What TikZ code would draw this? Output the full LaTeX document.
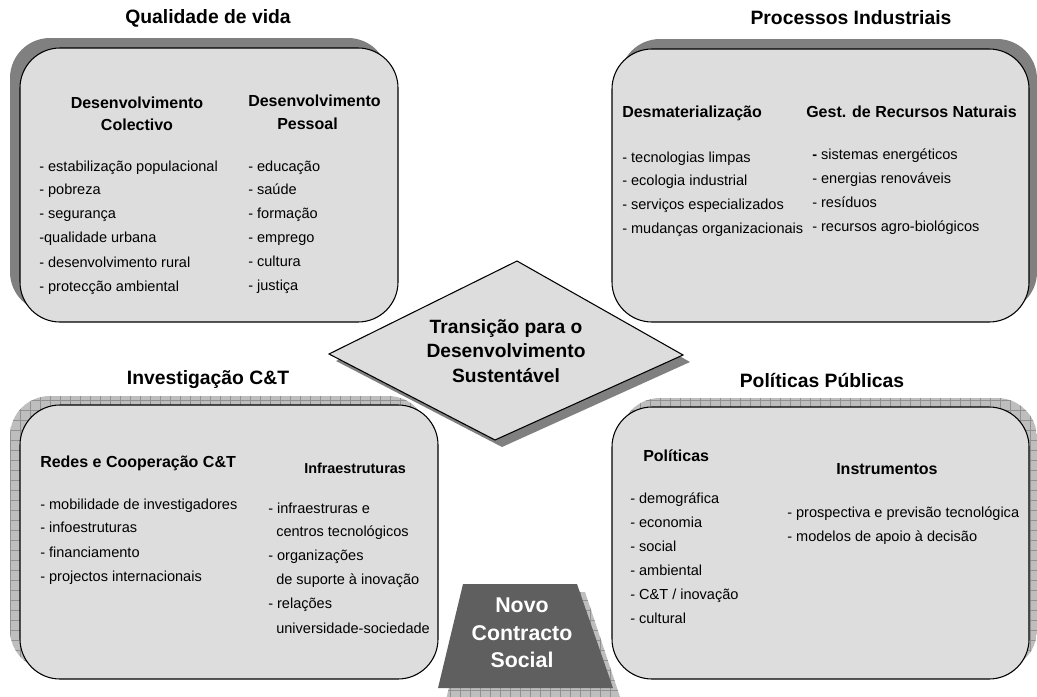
\documentclass[tikz,border=0pt]{standalone}
\usepackage{fontspec}
\setmainfont{Liberation Sans}
\definecolor{boxgray}{RGB}{221,221,221}
\definecolor{shadowgray}{RGB}{128,128,128}
\definecolor{gridfill}{RGB}{190,190,190}
\definecolor{gridline}{RGB}{145,145,145}
\definecolor{darkbox}{RGB}{95,95,95}
\newcommand{\gridshadow}[1]{%
  \begin{scope}
    \clip #1;
    \fill[gridfill] (0,0) rectangle (1040,720);
    \draw[gridline, line width=0.4pt, step=7.5pt] (0,0) grid (1040,720);
  \end{scope}}
\begin{document}
\begin{tikzpicture}[x=0.75pt,y=-0.75pt,
  item/.style={anchor=west, inner sep=0pt, font=\fontsize{10.9}{12}\selectfont, text height=1.5ex, text depth=0.25ex},
  sub/.style={inner sep=0pt, align=center, font=\bfseries\fontsize{12}{16.5}\selectfont},
  subl/.style={anchor=west, inner sep=0pt, font=\bfseries\fontsize{12}{16.5}\selectfont, text height=1.5ex, text depth=0.25ex},
  ttl/.style={inner sep=0pt, font=\bfseries\fontsize{14.5}{17}\selectfont},
  boxstyle/.style={draw=black, line width=0.8pt, fill=boxgray, rounded corners=30pt},
  solidshadow/.style={fill=shadowgray, rounded corners=30pt}]
\useasboundingbox (0,0) rectangle (1037,696);
\clip (0,0) rectangle (1037,696);

% ---- top-left box
\fill[solidshadow] (10,38) rectangle (388,312);
\draw[boxstyle] (20,48) rectangle (398,322);
% ---- top-right box
\fill[solidshadow] (620,39) rectangle (1037,312);
\draw[boxstyle] (612,49) rectangle (1029,322);
% ---- bottom-left box
\gridshadow{[rounded corners=30pt] (10,396) rectangle (428,670)}
\draw[boxstyle] (20,405) rectangle (438,679);
% ---- bottom-right box
\gridshadow{[rounded corners=30pt] (620,398) rectangle (1037,670)}
\draw[boxstyle] (612,407) rectangle (1029,679);

% ---- diamond
\fill[shadowgray] (336,361) -- (524,268) -- (690,362) -- (502,447) -- cycle;
\draw[line width=0.8pt, fill=boxgray] (329,354) -- (517,261) -- (683,355) -- (495,440) -- cycle;
\node[inner sep=0pt, align=center, font=\bfseries\fontsize{14.4}{18.4}\selectfont] (trans) at (506,351)
  {Transição para o\\Desenvolvimento\\Sustentável};

% ---- trapezoid
\gridshadow{(471,592) -- (585,592) -- (621,700) -- (446,700) -- cycle}
\fill[darkbox] (463,584) -- (577,584) -- (613,688) -- (438,688) -- cycle;
\node[inner sep=0pt, align=center, text=white, font=\bfseries\fontsize{16}{20.6}\selectfont] (novo) at (522,633)
  {Novo\\Contracto\\Social};

% ---- titles
\node[ttl] (t1) at (208,18) {Qualidade de vida};
\node[ttl] (t2) at (851,18) {Processos Industriais};
\node[ttl] (t3) at (208,380) {Investigação C\&T};
\node[ttl] (t4) at (822,380) {Políticas Públicas};

% ---- top-left contents
\node[sub] (dc) at (137,114) {Desenvolvimento\\Colectivo};
\node[subl] (dp1) at (248,102) {Desenvolvimento};
\node[subl] (dp2) at (277,125) {Pessoal};
\node[item] (a1) at (39,167) {- estabilização populacional};
\node[item] (a2) at (39,190) {- pobreza};
\node[item] (a3) at (39,214) {- segurança};
\node[item] (a4) at (39,238) {-qualidade urbana};
\node[item] (a5) at (39,263) {- desenvolvimento rural};
\node[item] (a6) at (39,287) {- protecção ambiental};
\node[item] (b1) at (248,167) {- educação};
\node[item] (b2) at (248,190) {- saúde};
\node[item] (b3) at (248,214) {- formação};
\node[item] (b4) at (248,238) {- emprego};
\node[item] (b5) at (248,262) {- cultura};
\node[item] (b6) at (248,286) {- justiça};

% ---- top-right contents
\node[subl] (dm) at (622,113) {Desmaterialização};
\node[subl] (gr) at (806,113) {Gest. de Recursos Naturais};
\node[item] (c1) at (622,158) {- tecnologias limpas};
\node[item] (c2) at (622,181) {- ecologia industrial};
\node[item] (c3) at (622,205) {- serviços especializados};
\node[item] (c4) at (622,229) {- mudanças organizacionais};
\node[item] (d1) at (812,155) {\textbf{-} sistemas energéticos};
\node[item] (d2) at (812,179) {- energias renováveis};
\node[item] (d3) at (812,203) {- resíduos};
\node[item] (d4) at (812,227) {- recursos agro-biológicos};

% ---- bottom-left contents
\node[subl] (rc) at (40,463) {Redes e Cooperação C\&T};
\node[subl, font=\bfseries\fontsize{10.8}{13}\selectfont] (inf) at (304,469) {Infraestruturas};
\node[item] (e1) at (40,505) {- mobilidade de investigadores};
\node[item] (e2) at (40,528) {- infoestruturas};
\node[item] (e3) at (40,553) {- financiamento};
\node[item] (e4) at (40,577) {- projectos internacionais};
\node[item] (f1) at (268,509) {- infraestruras e};
\node[item] (f2) at (276,532) {centros tecnológicos};
\node[item] (f3) at (268,556) {- organizações};
\node[item] (f4) at (276,580) {de suporte à inovação};
\node[item] (f5) at (268,604) {- relações};
\node[item] (f6) at (276,629) {universidade-sociedade};

% ---- bottom-right contents
\node[subl] (pol) at (643,457) {Políticas};
\node[subl] (ins) at (836,470) {Instrumentos};
\node[item] (g1) at (630,499) {- demográfica};
\node[item] (g2) at (630,523) {- economia};
\node[item] (g3) at (630,547) {- social};
\node[item] (g4) at (630,571) {- ambiental};
\node[item] (g5) at (630,595) {- C\&T / inovação};
\node[item] (g6) at (630,619) {- cultural};
\node[item] (h1) at (787,513) {- prospectiva e previsão tecnológica};
\node[item] (h2) at (787,537) {- modelos de apoio à decisão};
\end{tikzpicture}
\end{document}
